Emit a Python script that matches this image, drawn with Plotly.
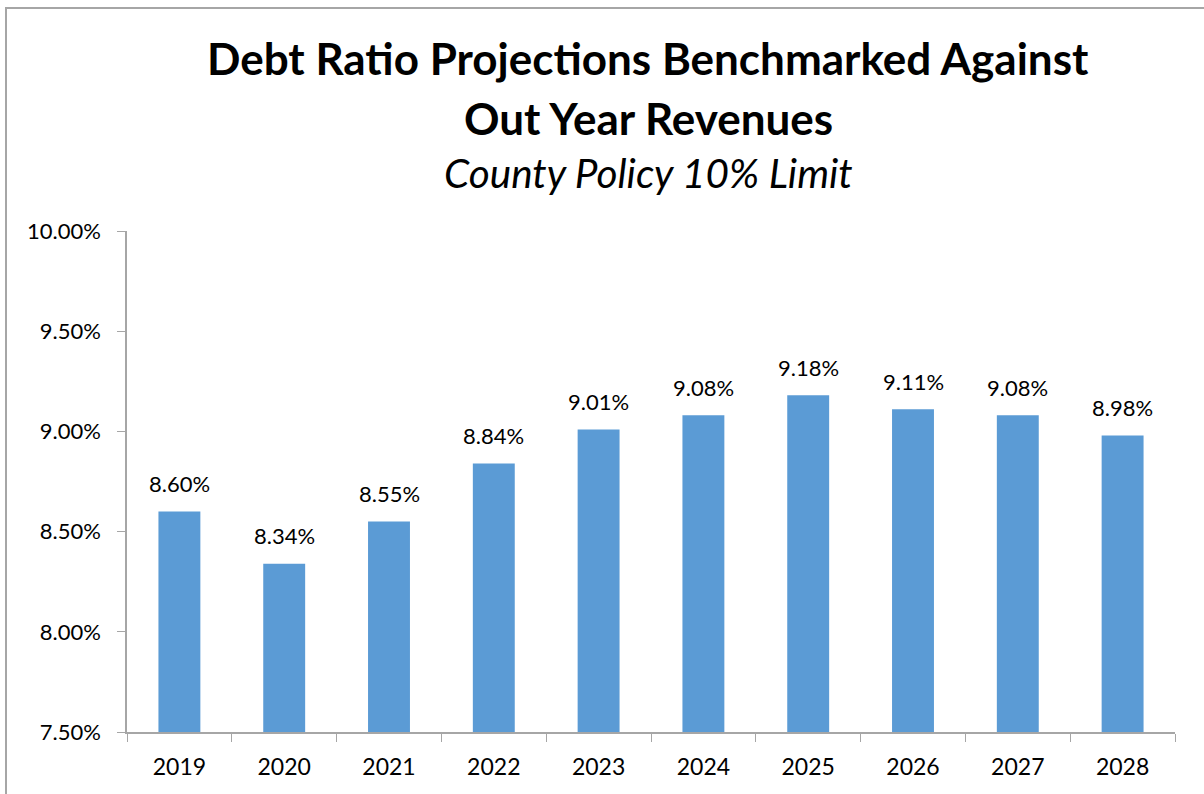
import plotly.graph_objects as go

years = ["2019", "2020", "2021", "2022", "2023", "2024", "2025", "2026", "2027", "2028"]
ratios = [0.0860, 0.0834, 0.0855, 0.0884, 0.0901, 0.0908, 0.0918, 0.0911, 0.0908, 0.0898]
y_ticks = [0.075, 0.080, 0.085, 0.090, 0.095, 0.100]

FONT = "Lato"
GRAY = "#A6A6A6"

W, H = 1204, 794
L, R, T, B = 127, 29, 231, 62
pw, ph = W - L - R, H - T - B

fig = go.Figure(go.Bar(
    x=years, y=ratios,
    marker=dict(color="#5B9BD5", line=dict(width=0)),
    hoverinfo="skip",
))

titles = [
    dict(text="<b>Debt Ratio Projections Benchmarked Against</b>", px=648, py=58, size=44),
    dict(text="<b>Out Year Revenues</b>", px=648, py=118, size=44),
    dict(text="<i>County Policy 10% Limit</i>", px=648, py=172, size=40.5),
]
ann_list = [
    dict(text=a["text"], xref="paper", yref="paper",
         x=(a["px"] - L) / pw, y=(H - B - a["py"]) / ph,
         xanchor="center", yanchor="middle", showarrow=False,
         font=dict(size=a["size"], family=FONT, color="#000000"))
    for a in titles
]
for i, v in enumerate(ratios):
    ann_list.append(dict(text=f"{v*100:.2f}%", x=i, y=v, xref="x", yref="y",
                         yanchor="middle", xanchor="center", yshift=28, showarrow=False,
                         font=dict(size=22, family=FONT, color="#000000")))

fig.update_layout(
    width=W, height=H,
    margin=dict(l=L, r=R, t=T, b=B, autoexpand=False),
    paper_bgcolor="white", plot_bgcolor="white",
    bargap=0.6,
    showlegend=False,
    font=dict(family=FONT, color="#000000"),
    annotations=ann_list,
    shapes=[dict(type="rect", xref="paper", yref="paper",
                 x0=(6 - L) / pw, x1=1.2, y0=-0.2, y1=(H - B - 8) / ph,
                 line=dict(color=GRAY, width=2), layer="below")],
)

fig.update_xaxes(
    type="category", range=[-0.5, len(years) - 0.5], automargin=False,
    showline=True, linecolor=GRAY, linewidth=1.5, tickangle=0,
    ticks="outside", tickson="boundaries", ticklen=8, tickcolor=GRAY,
    tickfont=dict(family=FONT, size=23), showgrid=False, ticklabelstandoff=14,
)
fig.update_yaxes(
    range=[0.075, 0.100], tickvals=y_ticks, automargin=False,
    ticktext=[f"{v*100:.2f}%" for v in y_ticks],
    showline=True, linecolor=GRAY, linewidth=1.5,
    ticks="outside", ticklen=8, tickcolor=GRAY,
    tickfont=dict(family=FONT, size=22), showgrid=False, zeroline=False,
    ticklabelstandoff=12,
)

fig.write_html("out.html", config={"displayModeBar": False},
               post_script="document.body.style.margin='0';document.body.style.overflow='hidden';")
